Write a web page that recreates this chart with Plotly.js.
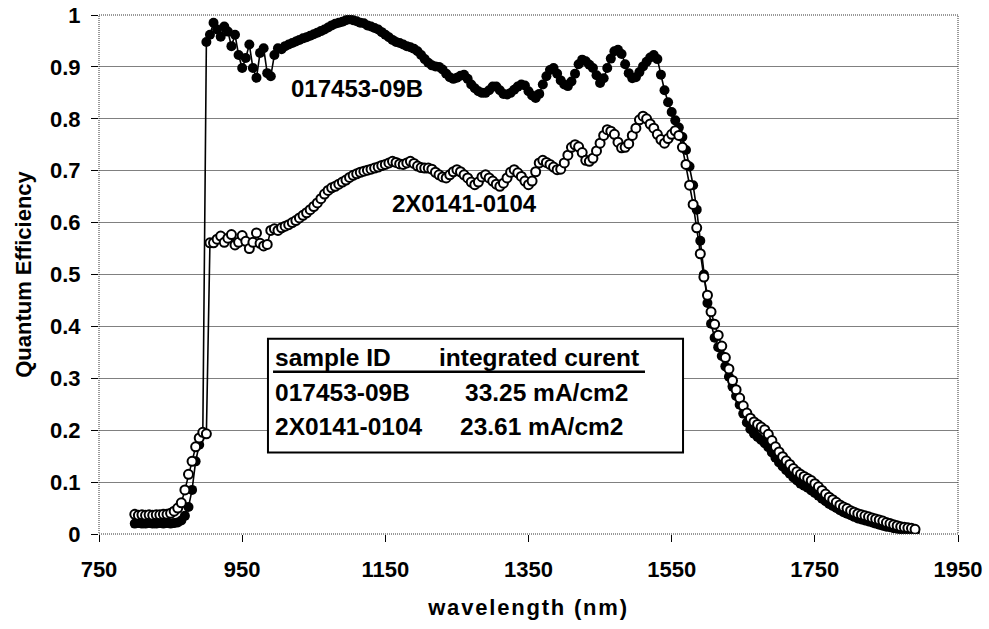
<!DOCTYPE html>
<html>
<head>
<meta charset="utf-8">
<script src="https://cdn.plot.ly/plotly-3.0.1.min.js"></script>
<style>
  html, body { margin: 0; padding: 0; background: #ffffff; }
  #chart { width: 989px; height: 629px; }
</style>
</head>
<body>
<div id="chart"></div>
<script>
// wavelength grid (nm)
const wavelength = [
  800,805,810,815,820,825,830,835,840,845,850,855,860,865,870,875,880,885,890,895,
  900,905,910,915,920,925,930,935,940,945,950,955,960,965,970,975,980,985,990,995,
  1000,1005,1010,1015,1020,1025,1030,1035,1040,1045,1050,1055,1060,1065,1070,1075,1080,1085,1090,1095,
  1100,1105,1110,1115,1120,1125,1130,1135,1140,1145,1150,1155,1160,1165,1170,1175,1180,1185,1190,1195,
  1200,1205,1210,1215,1220,1225,1230,1235,1240,1245,1250,1255,1260,1265,1270,1275,1280,1285,1290,1295,
  1300,1305,1310,1315,1320,1325,1330,1335,1340,1345,1350,1355,1360,1365,1370,1375,1380,1385,1390,1395,
  1400,1405,1410,1415,1420,1425,1430,1435,1440,1445,1450,1455,1460,1465,1470,1475,1480,1485,1490,1495,
  1500,1505,1510,1515,1520,1525,1530,1535,1540,1545,1550,1555,1560,1565,1570,1575,1580,1585,1590,1595,
  1600,1605,1610,1615,1620,1625,1630,1635,1640,1645,1650,1655,1660,1665,1670,1675,1680,1685,1690,1695,
  1700,1705,1710,1715,1720,1725,1730,1735,1740,1745,1750,1755,1760,1765,1770,1775,1780,1785,1790,1795,
  1800,1805,1810,1815,1820,1825,1830,1835,1840,1845,1850,1855,1860,1865,1870,1875,1880,1885,1890
];

// sample 017453-09B (filled markers)
const qe_017453_09B = [
  0.020,0.021,0.020,0.020,0.021,0.020,0.020,0.021,0.020,0.021,0.020,0.021,0.022,0.026,0.035,0.052,0.085,0.140,0.172,0.192,
  0.948,0.962,0.985,0.972,0.958,0.978,0.968,0.940,0.962,0.923,0.898,0.917,0.943,0.898,0.879,0.927,0.936,0.888,0.882,0.923,
  0.936,0.934,0.940,0.943,0.946,0.949,0.952,0.955,0.957,0.960,0.963,0.966,0.969,0.972,0.976,0.980,0.983,0.985,0.987,0.990,
  0.992,0.990,0.988,0.985,0.984,0.980,0.978,0.975,0.972,0.967,0.962,0.957,0.952,0.948,0.946,0.943,0.940,0.938,0.935,0.930,
  0.923,0.915,0.908,0.903,0.901,0.900,0.895,0.887,0.880,0.877,0.879,0.883,0.885,0.877,0.866,0.859,0.853,0.850,0.850,0.855,
  0.862,0.862,0.855,0.848,0.847,0.850,0.856,0.862,0.866,0.864,0.853,0.845,0.840,0.848,0.866,0.882,0.894,0.898,0.887,0.874,
  0.866,0.863,0.872,0.887,0.905,0.914,0.911,0.904,0.898,0.884,0.869,0.878,0.898,0.916,0.930,0.933,0.925,0.905,0.888,0.878,
  0.880,0.890,0.901,0.910,0.918,0.923,0.915,0.885,0.855,0.832,0.813,0.797,0.783,0.765,0.740,0.708,0.672,0.625,0.565,0.500,
  0.445,0.405,0.378,0.360,0.343,0.323,0.303,0.284,0.266,0.249,0.232,0.215,0.202,0.193,0.187,0.181,0.175,0.167,0.157,0.147,
  0.138,0.130,0.123,0.116,0.109,0.103,0.097,0.093,0.089,0.084,0.079,0.074,0.068,0.063,0.058,0.054,0.050,0.046,0.042,0.039,
  0.036,0.033,0.030,0.028,0.026,0.024,0.022,0.020,0.018,0.016,0.014,0.013,0.011,0.010,0.009,0.008,0.007,0.006,0.005
];

// sample 2X0141-0104 (open markers)
const qe_2X0141_0104 = [
  0.038,0.036,0.037,0.036,0.037,0.036,0.037,0.037,0.038,0.038,0.040,0.044,0.050,0.060,0.085,0.115,0.140,0.168,0.185,0.196,
  0.193,0.561,0.561,0.568,0.574,0.562,0.570,0.577,0.557,0.562,0.575,0.564,0.550,0.562,0.580,0.560,0.555,0.558,0.585,0.588,
  0.585,0.590,0.593,0.596,0.600,0.604,0.609,0.614,0.619,0.625,0.631,0.638,0.646,0.655,0.662,0.667,0.670,0.674,0.678,0.682,
  0.687,0.691,0.694,0.697,0.699,0.701,0.703,0.705,0.707,0.710,0.712,0.715,0.718,0.716,0.713,0.712,0.715,0.718,0.714,0.709,
  0.706,0.705,0.705,0.703,0.697,0.692,0.688,0.686,0.692,0.698,0.702,0.698,0.692,0.686,0.678,0.673,0.678,0.688,0.692,0.686,
  0.680,0.674,0.670,0.676,0.686,0.697,0.702,0.696,0.689,0.680,0.673,0.680,0.698,0.715,0.720,0.716,0.712,0.707,0.702,0.703,
  0.715,0.730,0.745,0.750,0.746,0.735,0.720,0.718,0.724,0.738,0.753,0.768,0.779,0.776,0.770,0.755,0.744,0.745,0.752,0.768,
  0.782,0.798,0.805,0.800,0.790,0.782,0.770,0.760,0.753,0.762,0.770,0.777,0.768,0.745,0.712,0.672,0.635,0.590,0.540,0.495,
  0.460,0.428,0.404,0.383,0.362,0.340,0.318,0.296,0.278,0.262,0.247,0.233,0.223,0.216,0.211,0.206,0.201,0.192,0.180,0.168,
  0.158,0.149,0.141,0.134,0.126,0.120,0.115,0.111,0.107,0.103,0.097,0.091,0.084,0.077,0.071,0.066,0.061,0.056,0.052,0.049,
  0.045,0.042,0.039,0.037,0.035,0.033,0.031,0.029,0.027,0.025,0.022,0.020,0.018,0.016,0.014,0.013,0.012,0.011,0.009
];

// summary table
const sampleIds = ['017453-09B', '2X0141-0104'];
const integratedCurrent = ['33.25 mA/cm2', '23.61 mA/cm2'];
const tableHeader = ['sample ID', 'integrated curent'];

const FONT = 'Liberation Sans, Arial, Helvetica, sans-serif';

const traces = [
  {
    x: wavelength, y: qe_017453_09B, name: sampleIds[0],
    type: 'scatter', mode: 'lines+markers',
    line: {color: '#000000', width: 1.6},
    marker: {symbol: 'circle', size: 10, color: '#000000', line: {width: 0}}
  },
  {
    x: wavelength, y: qe_2X0141_0104, name: sampleIds[1],
    type: 'scatter', mode: 'lines+markers',
    line: {color: '#000000', width: 1.6},
    marker: {symbol: 'circle', size: 9, color: '#ffffff', line: {color: '#000000', width: 2}}
  }
];

// plot-area geometry in paper units for the table box
const box = {x0: 0.1967, x1: 0.6799, y0: 0.1569, y1: 0.3763};
const col1 = 0.2026, col2h = 0.3931;
const rowY = [0.3392, 0.2718, 0.2075];
const valX = [0.4241, 0.4179];
const TF = {family: FONT, size: 24.5, weight: 700, color: '#000'};

const annotations = [
  {xref: 'x', yref: 'y', x: 1111, y: 0.859, text: sampleIds[0], showarrow: false,
   xanchor: 'center', yanchor: 'middle', font: {family: FONT, size: 24, weight: 700, color: '#000'}},
  {xref: 'x', yref: 'y', x: 1260, y: 0.6375, text: sampleIds[1], showarrow: false,
   xanchor: 'center', yanchor: 'middle', font: {family: FONT, size: 24, weight: 700, color: '#000'}},
  {xref: 'paper', yref: 'paper', x: col1, y: rowY[0], text: tableHeader[0], showarrow: false,
   xanchor: 'left', yanchor: 'middle', font: TF},
  {xref: 'paper', yref: 'paper', x: col2h, y: rowY[0], text: tableHeader[1], showarrow: false,
   xanchor: 'left', yanchor: 'middle', font: TF}
];
for (let i = 0; i < sampleIds.length; i++) {
  annotations.push({xref: 'paper', yref: 'paper', x: col1, y: rowY[i + 1], text: sampleIds[i], showarrow: false,
    xanchor: 'left', yanchor: 'middle', font: TF});
  annotations.push({xref: 'paper', yref: 'paper', x: valX[i], y: rowY[i + 1], text: integratedCurrent[i], showarrow: false,
    xanchor: 'left', yanchor: 'middle', font: TF});
}

const layout = {
  width: 989, height: 629,
  margin: {l: 99, r: 31, t: 15, b: 95, pad: 0},
  paper_bgcolor: '#ffffff', plot_bgcolor: '#ffffff',
  showlegend: false,
  font: {family: FONT, color: '#000'},
  xaxis: {
    range: [750, 1950], tick0: 750, dtick: 200,
    showgrid: false, zeroline: false, showline: false,
    ticks: 'outside', ticklen: 7, tickwidth: 1, tickcolor: '#000',
    ticklabelstandoff: 9,
    tickfont: {family: FONT, size: 22, weight: 700, color: '#000'},
    title: {text: 'wavelength (nm)', standoff: 18, font: {family: FONT, size: 22, weight: 700, color: '#000'}}
  },
  yaxis: {
    range: [0, 1], tick0: 0, dtick: 0.1,
    showgrid: true, gridcolor: '#808080', gridwidth: 1,
    zeroline: false, showline: false,
    ticks: 'outside', ticklen: 7, tickwidth: 1, tickcolor: '#000',
    ticklabelstandoff: 6,
    tickfont: {family: FONT, size: 22, weight: 700, color: '#000'},
    title: {text: 'Quantum Efficiency', standoff: 12, font: {family: FONT, size: 22, weight: 700, color: '#000'}}
  },
  shapes: [
    {type: 'rect', xref: 'paper', yref: 'paper', x0: 0, x1: 1, y0: 0, y1: 1,
     line: {color: '#333333', width: 1, dash: '1px,1px'}, layer: 'above'},
    {type: 'rect', xref: 'paper', yref: 'paper', x0: box.x0, x1: box.x1, y0: box.y0, y1: box.y1,
     line: {color: '#000000', width: 2}, fillcolor: '#ffffff', layer: 'above'},
    {type: 'line', xref: 'paper', yref: 'paper', x0: col1, x1: 0.6356, y0: 0.3128, y1: 0.3128,
     line: {color: '#000000', width: 2.5}, layer: 'above'}
  ],
  annotations: annotations
};

Plotly.newPlot('chart', traces, layout, {staticPlot: true, displayModeBar: false}).then(function () {
  const t = document.querySelector('.g-xtitle text');
  if (t) t.style.letterSpacing = '1.8px';
});
</script>
</body>
</html>
